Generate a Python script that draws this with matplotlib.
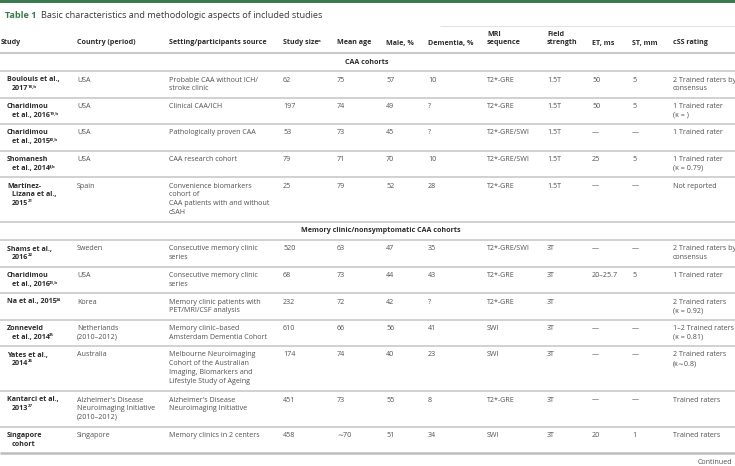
import matplotlib
matplotlib.use("Agg")
import matplotlib.pyplot as plt

plt.rcParams['font.family'] = ['Open Sans', 'DejaVu Sans']

# ---------------- data ----------------
title_label = "Table 1"
title_text = "Basic characteristics and methodologic aspects of included studies"

headers = ["Study", "Country (period)", "Setting/participants source", "Study size",
           "Mean age", "Male, %", "Dementia, %", "MRI\nsequence", "Field\nstrength",
           "ET, ms", "ST, mm", "cSS rating"]
header_sups = ["", "", "", "a", "", "", "", "", "", "", "", ""]

groups = ["CAA cohorts", "Memory clinic/nonsymptomatic CAA cohorts"]
group_of_row = [0, 0, 0, 0, 0, 1, 1, 1, 1, 1, 1, 1]

studies = ["Boulouis et al.,\n2017", "Charidimou\net al., 2016", "Charidimou\net al., 2015",
           "Shomanesh\net al., 2014", "Martínez-\nLizana et al.,\n2015",
           "Shams et al.,\n2016", "Charidimou\net al., 2016", "Na et al., 2015",
           "Zonneveld\net al., 2014", "Yates et al.,\n2014", "Kantarci et al.,\n2013",
           "Singapore\ncohort"]
study_refs = ["18,b", "19,b", "20,b", "4,b", "21", "22", "23,b", "24", "25", "26", "27", ""]
countries = ["USA", "USA", "USA", "USA", "Spain", "Sweden", "USA", "Korea",
             "Netherlands\n(2010–2012)", "Australia",
             "Alzheimer's Disease\nNeuroimaging Initiative\n(2010–2012)", "Singapore"]
settings = ["Probable CAA without ICH/\nstroke clinic", "Clinical CAA/ICH",
            "Pathologically proven CAA", "CAA research cohort",
            "Convenience biomarkers\ncohort of\nCAA patients with and without\ncSAH",
            "Consecutive memory clinic\nseries", "Consecutive memory clinic\nseries",
            "Memory clinic patients with\nPET/MRI/CSF analysis",
            "Memory clinic–based\nAmsterdam Dementia Cohort",
            "Melbourne Neuroimaging\nCohort of the Australian\nImaging, Biomarkers and\nLifestyle Study of Ageing",
            "Alzheimer's Disease\nNeuroimaging Initiative",
            "Memory clinics in 2 centers"]
study_size = ["62", "197", "53", "79", "25", "520", "68", "232", "610", "174", "451", "458"]
mean_age = ["75", "74", "73", "71", "79", "63", "73", "72", "66", "74", "73", "∼70"]
male_pct = ["57", "49", "45", "70", "52", "47", "44", "42", "56", "40", "55", "51"]
dementia_pct = ["10", "?", "?", "10", "28", "35", "43", "?", "41", "23", "8", "34"]
mri_seq = ["T2*-GRE", "T2*-GRE", "T2*-GRE/SWI", "T2*-GRE/SWI", "T2*-GRE", "T2*-GRE/SWI",
           "T2*-GRE", "T2*-GRE", "SWI", "SWI", "T2*-GRE", "SWI"]
field_strength = ["1.5T", "1.5T", "1.5T", "1.5T", "1.5T", "3T", "3T", "3T", "3T", "3T", "3T", "3T"]
et_ms = ["50", "50", "—", "25", "—", "—", "20–25.7", "", "—", "—", "—", "20"]
st_mm = ["5", "5", "—", "5", "—", "—", "5", "", "—", "—", "—", "1"]
css_rating = ["2 Trained raters by\nconsensus", "1 Trained rater\n(κ = )", "1 Trained rater",
              "1 Trained rater\n(κ = 0.79)", "Not reported", "2 Trained raters by\nconsensus",
              "1 Trained rater", "2 Trained raters\n(κ = 0.92)", "1–2 Trained raters\n(κ = 0.81)",
              "2 Trained raters\n(κ∼0.8)", "Trained raters", "Trained raters"]
footer = "Continued"

# ---------------- layout ----------------
W, H = 735, 466
fig = plt.figure(figsize=(W / 100, H / 100), dpi=100)
ax = fig.add_axes([0, 0, 1, 1])
ax.set_xlim(0, W)
ax.set_ylim(H, 0)
ax.axis('off')

col_x = [7, 77, 169, 283, 337, 386, 428, 487, 547, 592, 632, 673]
FS = 5.1
TXT = '#505050'
DARK = '#2a2a2a'
GREEN = '#3a7a4f'
RULE = '#c9c9c9'
LSP = 8.7


def put_sup(t, sup, size, color, weight='normal'):
    ax.annotate(sup, xy=(1, 1), xycoords=t, xytext=(-0.4, 0.6), textcoords='offset points',
                fontsize=size * 0.62, color=color, fontweight=weight,
                ha='left', va='top')


# top green bar
ax.axhspan(0, 2.6, color=GREEN, lw=0)
# title
t = ax.text(5, 16, title_label, fontsize=6.6, fontweight='bold', color=GREEN, va='center')
ax.annotate(title_text, xy=(1, 0.5), xycoords=t, xytext=(3.2, 0), textcoords='offset points',
            fontsize=6.6, color='#3a3a3a', va='center', ha='left')

# faint rule above headers
ax.hlines(25.5, 440, W, color='#e3e3e3', lw=0.8)

# headers
for i, h in enumerate(headers):
    x = 1 if i == 0 else col_x[i]
    lines = h.split("\n")
    n = len(lines)
    for k, ln in enumerate(lines):
        y = 43 - (n - 1 - k) * LSP
        tt = ax.text(x, y, ln, fontsize=FS, fontweight='bold', color=DARK, va='center')
        if k == n - 1 and header_sups[i]:
            put_sup(tt, header_sups[i], FS, DARK, 'bold')
ax.hlines(53, 0, W, color=RULE, lw=1.5)

columns = [countries, settings, study_size, mean_age, male_pct, dementia_pct,
           mri_seq, field_strength, et_ms, st_mm, css_rating]
group_centers = [367, 381]

y = 53.0
cur_group = -1
for r in range(len(studies)):
    g = group_of_row[r]
    if g != cur_group:
        cur_group = g
        ax.text(group_centers[g], y + 9, groups[g], fontsize=FS, fontweight='bold',
                color=DARK, ha='center', va='center')
        y += 18
        ax.hlines(y, 0, W, color=RULE, lw=1.2)
    cells = [studies[r]] + [c[r] for c in columns]
    nlines = max(len(c.split("\n")) for c in cells)
    # study cell
    slines = studies[r].split("\n")
    for k, ln in enumerate(slines):
        xx = col_x[0] + (0 if k == 0 else 5)
        tt = ax.text(xx, y + 9 + k * LSP, ln, fontsize=FS, fontweight='bold',
                     color=DARK, va='center')
        if k == len(slines) - 1 and study_refs[r]:
            put_sup(tt, study_refs[r], FS, DARK, 'bold')
    for ci, col in enumerate(columns, start=1):
        for k, ln in enumerate(col[r].split("\n")):
            ax.text(col_x[ci], y + 9 + k * LSP, ln, fontsize=FS, color=TXT, va='center')
    y += 17.25 + 9.25 * (nlines - 1)
    last = r == len(studies) - 1
    ax.hlines(y, 0, W, color='#bdbdbd' if last else RULE, lw=1.8 if last else 1.2)

ax.text(732, 462, footer, fontsize=FS, color=TXT, ha='right', va='center')

fig.savefig("out.png", dpi=100, facecolor='white')
